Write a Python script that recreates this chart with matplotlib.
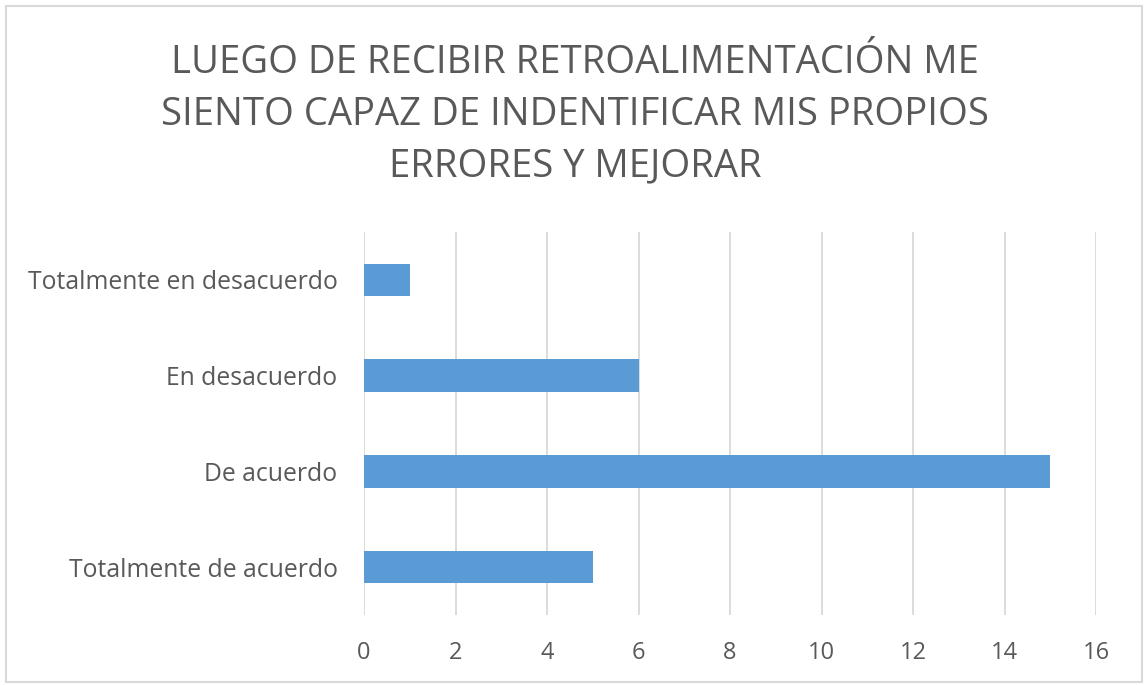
import matplotlib
matplotlib.use("Agg")
import matplotlib.pyplot as plt
from matplotlib.patches import Rectangle

plt.rcParams['font.family'] = ['Open Sans', 'DejaVu Sans']

categorias = ["Totalmente de acuerdo", "De acuerdo", "En desacuerdo", "Totalmente en desacuerdo"]
valores = [5, 15, 6, 1]
ticks_x = [0, 2, 4, 6, 8, 10, 12, 14, 16]
titulo = "LUEGO DE RECIBIR RETROALIMENTACIÓN ME\nSIENTO CAPAZ DE INDENTIFICAR MIS PROPIOS\nERRORES Y MEJORAR"

gris = "#595959"
azul = "#5B9BD5"

fig = plt.figure(figsize=(11.44, 6.85), dpi=100)
ax = fig.add_axes([364/1144, 1 - 615/685, (1096 - 364)/1144, (615 - 232)/685])

ax.barh(range(len(categorias)), valores, height=0.34, color=azul, zorder=3)
ax.set_yticks(range(len(categorias)))
ax.set_yticklabels(categorias)
ax.set_ylim(-0.5, len(categorias) - 0.5)
ax.set_xlim(0, 16)
ax.set_xticks(ticks_x)
ax.grid(axis="x", color="#D9D9D9", linewidth=1.3, zorder=0)
for s in ax.spines.values():
    s.set_visible(False)
ax.tick_params(axis="both", length=0, labelcolor=gris)
ax.tick_params(axis="y", pad=19, labelsize=17.8)
ax.tick_params(axis="x", pad=19, labelsize=17)

fig.text(0.5025, 1 - 115/685, titulo, ha="center", va="center",
         fontsize=27.5, color=gris, linespacing=1.47)

# chart border
fig.patches.append(Rectangle((6/1144, 3/685), 1136/1144, 676/685, transform=fig.transFigure,
                             fill=False, edgecolor="#D9D9D9", linewidth=1.5))

fig.savefig("out.png", dpi=100)
